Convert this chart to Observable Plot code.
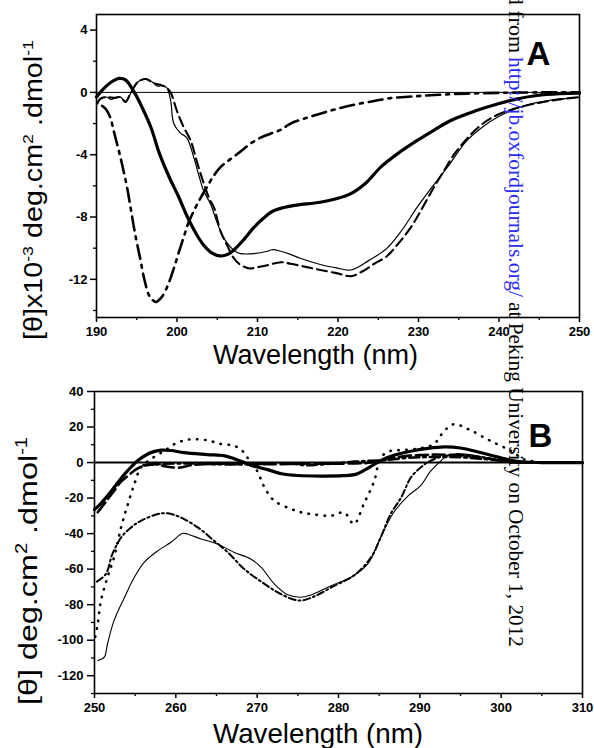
<!DOCTYPE html>
<html>
<head>
<meta charset="utf-8">
<script src="https://cdn.jsdelivr.net/npm/d3@7"></script>
<script src="https://cdn.jsdelivr.net/npm/@observablehq/plot@0.6"></script>
<style>
  html, body { margin: 0; padding: 0; background: #fff; }
  #wrap { position: relative; width: 594px; height: 748px; overflow: hidden; background: #fff; }
  #wrap > div.panel { position: absolute; left: 0; }
  #chartA { top: 0; }
  #chartB { top: 372px; }
  .panel svg text { font-weight: 700 !important; font-size: 13px !important; font-family: 'Liberation Sans', Arial, sans-serif !important; }
  #overlay { position: absolute; left: 0; top: 0; pointer-events: none; }
</style>
</head>
<body>
<div id="wrap">
  <div class="panel" id="chartA"></div>
  <div class="panel" id="chartB"></div>
  <svg id="overlay" width="594" height="748" xmlns="http://www.w3.org/2000/svg"></svg>
</div>
<script>
// ---------------- Panel A data (wavelength nm, [θ]x10^-3) ----------------
const xTicksA = [190, 200, 210, 220, 230, 240, 250];
const xMinorA = [195, 205, 215, 225, 235, 245];
const yTicksA = [-12, -8, -4, 0, 4];
const yMinorA = [-14, -10, -6, -2, 2];

const thickA = [[190.0,-0.3],[190.8,0.2],[191.8,0.65],[192.8,0.9],[193.6,0.8],[194.7,0.0],[195.7,-1.0],[196.8,-2.3],[197.8,-3.9],[199.0,-5.4],[200.2,-6.7],[201.3,-8.0],[202.3,-9.0],[203.3,-9.8],[204.3,-10.3],[205.4,-10.5],[206.3,-10.4],[207.2,-10.05],[208.3,-9.45],[209.5,-8.7],[210.7,-8.1],[212.0,-7.6],[214.1,-7.3],[217.8,-7.05],[220.0,-6.8],[221.6,-6.5],[223.5,-5.8],[225.3,-4.8],[227.5,-3.9],[229.8,-3.1],[232.0,-2.4],[234.0,-1.8],[237.0,-1.2],[239.8,-0.75],[242.0,-0.45],[244.7,-0.2],[247.5,-0.08],[250.0,-0.05]];

const thinA = [[190.1,-0.75],[190.5,-0.43],[191.3,-0.3],[191.8,-0.45],[192.3,-0.35],[193.0,-0.3],[193.6,-0.65],[194.2,-0.1],[194.7,0.35],[195.1,0.65],[195.6,0.8],[196.1,0.86],[196.7,0.75],[197.1,0.6],[197.6,0.4],[198.1,0.44],[198.7,0.32],[199.2,-0.5],[199.6,-2.0],[200.4,-2.6],[201.2,-2.9],[202.1,-4.2],[202.7,-5.3],[203.3,-6.3],[204.2,-7.2],[204.8,-8.1],[205.4,-8.9],[206.0,-9.5],[206.6,-9.9],[207.2,-10.2],[207.9,-10.35],[209.5,-10.35],[211.2,-10.2],[211.8,-10.1],[212.9,-10.2],[214.1,-10.4],[215.3,-10.65],[217.8,-11.05],[219.7,-11.25],[221.6,-11.4],[223.8,-10.8],[226.1,-10.0],[228.0,-8.8],[229.8,-7.4],[231.8,-6.0],[233.6,-4.8],[236.0,-3.1],[238.0,-2.2],[239.8,-1.6],[243.1,-0.86],[246.5,-0.5],[250.0,-0.32]];

const dashedA = [[190.1,-0.7],[190.5,-0.4],[191.3,-0.3],[192.3,-0.35],[193.0,-0.3],[193.6,-0.6],[194.2,-0.1],[195.1,0.65],[196.1,0.86],[197.1,0.6],[198.1,0.45],[198.7,0.3],[199.2,0.0],[200.0,-1.2],[200.8,-2.2],[201.7,-3.1],[202.5,-4.5],[203.3,-5.8],[204.0,-6.8],[204.6,-7.4],[205.4,-8.9],[206.4,-10.0],[207.0,-10.6],[207.7,-11.0],[208.4,-11.2],[209.1,-11.3],[210.2,-11.2],[211.2,-11.1],[212.9,-10.9],[214.1,-11.0],[216.0,-11.2],[217.8,-11.4],[219.8,-11.6],[221.6,-11.8],[223.0,-11.5],[224.5,-11.0],[226.1,-10.5],[227.5,-9.7],[229.0,-8.7],[230.5,-7.4],[231.9,-6.1],[233.2,-5.0],[234.4,-4.0],[235.8,-3.1],[237.3,-2.3],[239.0,-1.65],[241.0,-1.2],[243.0,-0.9],[245.2,-0.65],[247.5,-0.45],[250.0,-0.3]];

const dashDotA = [[190.7,-0.86],[191.2,-1.1],[191.7,-1.6],[192.2,-2.6],[192.8,-3.8],[193.3,-4.9],[193.8,-6.1],[194.3,-7.6],[194.8,-9.1],[195.4,-10.6],[195.9,-11.9],[196.5,-13.0],[197.0,-13.35],[197.4,-13.45],[198.0,-13.2],[198.4,-12.9],[199.0,-12.2],[199.6,-11.3],[200.2,-10.3],[200.8,-9.35],[201.4,-8.4],[202.1,-7.6],[202.9,-6.8],[203.7,-6.1],[204.5,-5.4],[205.4,-4.8],[206.6,-4.3],[207.9,-3.8],[209.1,-3.3],[210.4,-2.9],[211.6,-2.65],[212.9,-2.4],[214.1,-2.0],[216.0,-1.65],[218.2,-1.3],[220.3,-1.0],[222.4,-0.75],[224.5,-0.55],[226.5,-0.37],[229.5,-0.25],[232.7,-0.15],[236.0,-0.08],[240.0,-0.03],[245.0,0.0],[250.0,0.0]];

// ---------------- Panel B data (wavelength nm, [θ]) ----------------
const xTicksB = [250, 260, 270, 280, 290, 300, 310];
const xMinorB = [255, 265, 275, 285, 295, 305];
const yTicksB = [-120, -100, -80, -60, -40, -20, 0, 20, 40];
const yMinorB = [-130, -110, -90, -70, -50, -30, -10, 10, 30];

const thickB = [[250.0,-26.5],[250.8,-23],[252.0,-16.5],[253.0,-10.5],[253.7,-6.5],[254.5,-2.5],[255.3,1.0],[256.5,4.7],[257.4,6.3],[258.2,7.0],[259.4,6.8],[261.0,5.6],[263.9,4.5],[266.0,3.8],[267.6,1.5],[269.2,-1.5],[271.3,-4.0],[273.0,-6.3],[275.0,-7.3],[277.8,-7.6],[280.5,-7.4],[282.2,-6.5],[283.3,-4.0],[284.4,-1.0],[286.0,2.8],[287.5,5.0],[289.0,6.5],[291.0,8.0],[293.0,8.8],[295.0,8.2],[297.3,5.8],[299.5,3.2],[301.5,1.0],[303.0,0.2],[305.0,0],[310.0,0]];

const dashedB = [[250.4,-28],[251.4,-22],[252.4,-16],[253.2,-11],[254.1,-7.5],[254.9,-4.5],[255.7,-2.4],[256.5,-1.3],[257.3,-0.9],[258.2,-1.6],[259.0,-2.4],[260.6,-2.8],[261.9,-1.5],[263.5,-0.9],[266.0,-0.7],[270.0,-1.0],[274.0,-0.8],[278.0,-0.6],[282.0,-0.5],[284.0,0.0],[286.0,2.0],[288.0,3.5],[290.0,4.2],[292.0,4.5],[295.0,4.0],[297.5,2.8],[300.0,1.2],[302.0,0.3],[304.0,0]];

const dashDotB = [[256.0,-1.5],[258.0,-0.8],[262.0,-0.5],[266.0,-1.0],[270.0,-0.8],[274.0,-0.5],[276.0,-1.5],[278.0,-1.0],[282.0,0.5],[284.0,1.0],[286.0,1.5],[288.0,2.5],[290.0,3.0],[292.0,3.2],[295.0,3.0],[298.0,2.0],[300.0,1.0],[302.0,0.2],[306.0,0],[310.0,0]];

const dottedB = [[250.1,-98],[250.4,-90.8],[250.8,-77.7],[251.6,-64.6],[252.4,-53.4],[253.3,-36],[254.1,-23.4],[254.9,-12.1],[255.7,-2.8],[256.9,1.9],[258.6,6.6],[260.2,11.2],[261.9,13.1],[263.9,12.5],[265.5,10.5],[267.2,9.4],[268.2,6.5],[268.8,2.8],[270.0,-4.7],[270.9,-14],[272.1,-21.5],[274.1,-26],[275.4,-28],[276.6,-29],[279.1,-29.9],[280.7,-28.1],[281.9,-34.6],[283.1,-23.4],[284.4,-10.3],[285.2,2.8],[286.4,6.6],[288.0,7.0],[290.0,8.0],[291.7,10.3],[293.0,17.8],[294.2,21.6],[296.3,18.0],[298.7,12.2],[301.2,6.6],[302.8,1.9],[305.0,0]];

const dashDotDotB = [[250.3,-67],[251.4,-62.7],[252.2,-51.5],[253.3,-42],[254.5,-36.5],[255.7,-32.8],[257.8,-29],[259.0,-28.6],[260.6,-30.9],[262.7,-36.5],[264.7,-44],[266.4,-50.6],[268.4,-59.9],[270.9,-68.3],[272.9,-74],[275.2,-77.7],[277.2,-75],[279.3,-69.8],[281.9,-63.6],[284.0,-53.4],[285.2,-42],[286.4,-29],[287.7,-19.7],[288.9,-8.4],[290.1,-2.8],[291.3,1.0],[293.4,4.0],[296.0,4.0],[298.5,2.5],[301.0,0.5],[303.0,0]];

const thinB = [[250.4,-111.4],[251.2,-109.5],[251.6,-102],[252.4,-89],[253.7,-75.8],[254.9,-64.6],[256.1,-56.2],[257.8,-49.6],[259.4,-44.9],[260.8,-39.9],[261.4,-40.2],[263.1,-43],[265.1,-45.8],[267.2,-50.6],[269.2,-54.3],[270.5,-59],[272.1,-68.3],[273.7,-74.3],[275.4,-75.8],[276.6,-74.5],[279.1,-69.3],[281.5,-64.6],[283.6,-57],[285.2,-42],[286.8,-28],[288.5,-19],[290.1,-13],[291.3,-5],[292.6,1],[293.4,4],[294.5,5],[296.0,4.5],[298.5,2.5],[301.0,0.5],[303.0,0]];

// ---------------- texts ----------------
const xTitle = "Wavelength (nm)";
const watermark = ["Downloaded from", "http://jb.oxfordjournals.org/", "at Peking University on October 1, 2012"];

// ---------------- drawing ----------------
const FONT = "'Liberation Sans', Arial, Helvetica, sans-serif";
const fmt = d => String(d);
const X = d => d[0], Y = d => d[1];

function line(data, o) {
  return Plot.line(data, {x: X, y: Y, curve: "catmull-rom", stroke: "#000", strokeLinejoin: "round", ...o});
}

function axes(xT, xM, yT, yM, ySize, yPad) {
  return [
    Plot.axisX({ticks: xT, tickSize: 5, tickPadding: 4, tickFormat: fmt, label: null, strokeWidth: 1.5}),
    Plot.axisX({ticks: xM, tickSize: 3, tickFormat: () => "", label: null, strokeWidth: 1.3}),
    Plot.axisY({ticks: yT, tickSize: ySize, tickPadding: yPad, tickFormat: fmt, label: null, strokeWidth: 1.5}),
    Plot.axisY({ticks: yM, tickSize: 3, tickFormat: () => "", label: null, strokeWidth: 1.3})
  ];
}

const chartA = Plot.plot({
  width: 594, height: 372,
  marginTop: 14, marginBottom: 55, marginLeft: 96, marginRight: 15,
  style: {fontFamily: FONT, color: "#000", background: "#fff", overflow: "visible"},
  x: {domain: [190, 250]},
  y: {domain: [-14.45, 5]},
  marks: [
    Plot.ruleY([0], {stroke: "#000", strokeWidth: 1}),
    line(dashDotA, {strokeWidth: 2.6, strokeDasharray: "14,6,3,6"}),
    line(dashedA, {strokeWidth: 2.1, strokeDasharray: "10,5"}),
    line(thinA, {strokeWidth: 1.2}),
    line(thickA, {strokeWidth: 3.2}),
    Plot.frame({stroke: "#000", strokeWidth: 1.6}),
    ...axes(xTicksA, xMinorA, yTicksA, yMinorA, 6, 3)
  ]
});
document.getElementById("chartA").appendChild(chartA);

const chartB = Plot.plot({
  width: 594, height: 376,
  marginTop: 19, marginBottom: 55, marginLeft: 94, marginRight: 12,
  style: {fontFamily: FONT, color: "#000", background: "#fff", overflow: "visible"},
  x: {domain: [250, 310]},
  y: {domain: [-130, 40]},
  marks: [
    Plot.ruleY([0], {stroke: "#000", strokeWidth: 2}),
    line(thinB, {strokeWidth: 1.1}),
    line(dashDotDotB, {strokeWidth: 2, strokeDasharray: "7,3,2,3"}),
    line(dottedB, {strokeWidth: 2.6, strokeDasharray: "0.5,7.5", strokeLinecap: "round"}),
    line(dashedB, {strokeWidth: 2.6, strokeDasharray: "12,5"}),
    line(dashDotB, {strokeWidth: 2.6, strokeDasharray: "10,4,2.5,4"}),
    line(thickB, {strokeWidth: 3.2}),
    Plot.frame({stroke: "#000", strokeWidth: 1.6}),
    ...axes(xTicksB, xMinorB, yTicksB, yMinorB, 7, 4)
  ]
});
document.getElementById("chartB").appendChild(chartB);

// ---------------- overlay: titles, panel letters, watermark ----------------
const ov = d3.select("#overlay").style("font-family", FONT);

function yTitle(x, y, len, size, parts) {
  const t = ov.append("text")
    .attr("transform", `translate(${x},${y}) rotate(-90)`)
    .attr("font-size", size).attr("fill", "#000")
    .attr("textLength", len).attr("lengthAdjust", "spacingAndGlyphs");
  const s = size * 0.38;
  parts.forEach(p => {
    if (p.sup) t.append("tspan").attr("dy", -s).attr("font-size", size * 0.62).text(p.t);
    else t.append("tspan").attr("dy", p.after ? s : 0).text(p.t);
  });
}
yTitle(42, 340, 300, 25, [
  {t: "[θ]x10"}, {t: "-3", sup: true}, {t: " deg.cm", after: true}, {t: "2", sup: true}, {t: " .dmol", after: true}, {t: "-1", sup: true}
]);
yTitle(37, 705, 268, 26, [
  {t: "[θ] deg.cm"}, {t: "2", sup: true}, {t: " .dmol", after: true}, {t: "-1", sup: true}
]);

ov.append("text").attr("x", 213).attr("y", 364).attr("font-size", 27)
  .attr("textLength", 205).attr("lengthAdjust", "spacingAndGlyphs").text(xTitle);
ov.append("text").attr("x", 213).attr("y", 743).attr("font-size", 28)
  .attr("textLength", 210).attr("lengthAdjust", "spacingAndGlyphs").text(xTitle);

ov.append("text").attr("x", 538.5).attr("y", 65).attr("text-anchor", "middle")
  .attr("font-size", 33).attr("font-weight", 700).text("A");
ov.append("text").attr("x", 540.5).attr("y", 447).attr("text-anchor", "middle")
  .attr("font-size", 33).attr("font-weight", 700).text("B");

const SERIF = "'Liberation Serif', 'Times New Roman', serif";
ov.append("text").attr("transform", "translate(509,53) rotate(90)")
  .attr("text-anchor", "end").attr("font-family", SERIF).attr("font-size", 22).text(watermark[0]);
ov.append("text").attr("transform", "translate(509,57) rotate(90)")
  .attr("font-family", SERIF).attr("font-size", 22).attr("fill", "#2a2af5")
  .attr("textLength", 240).attr("lengthAdjust", "spacingAndGlyphs").text(watermark[1]);
ov.append("text").attr("transform", "translate(509,302) rotate(90)")
  .attr("font-family", SERIF).attr("font-size", 22)
  .attr("textLength", 345).attr("lengthAdjust", "spacingAndGlyphs").text(watermark[2]);
</script>
</body>
</html>
